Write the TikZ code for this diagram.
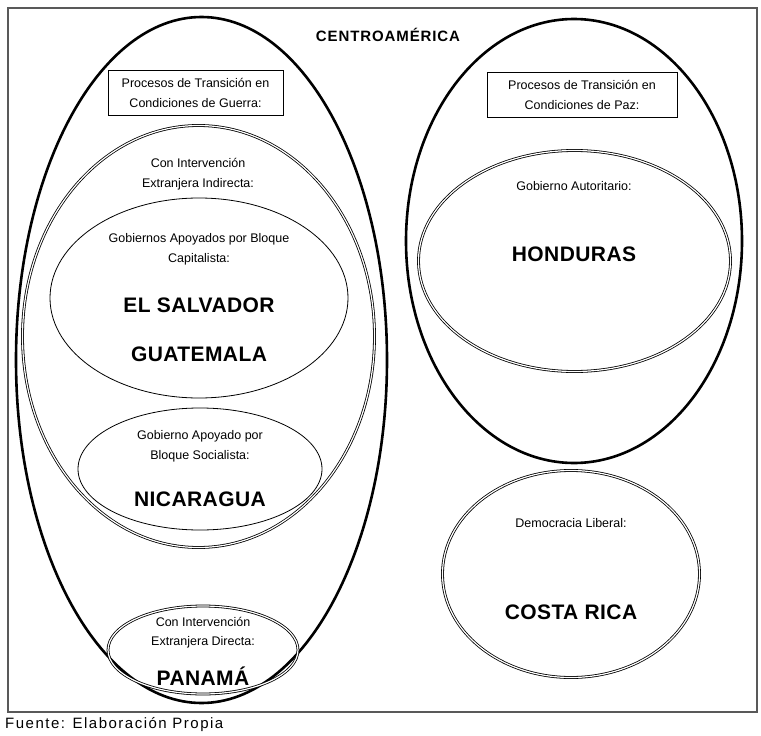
\documentclass[tikz,border=0pt]{standalone}
\usepackage{fontspec}
\setmainfont{Liberation Sans}
\usetikzlibrary{shapes.geometric}
\begin{document}
\begin{tikzpicture}[x=1pt,y=-1pt,
  bigell/.style={ellipse,draw,line width=2.6pt,inner sep=0pt},
  dblell/.style={ellipse,draw,double,line width=0.8pt,double distance=1.2pt,inner sep=0pt},
  oneell/.style={ellipse,draw,line width=0.8pt,inner sep=0pt},
  titlebox/.style={draw,line width=0.8pt,minimum width=#1,minimum height=45pt,inner sep=0pt,align=center,font=\fontsize{12.5}{20}\selectfont},
  small/.style={align=center,inner sep=0pt,font=\fontsize{12.5}{20}\selectfont},
  country/.style={inner sep=0pt,font=\fontsize{21}{24}\bfseries\addfontfeature{LetterSpace=2}\selectfont}]
\useasboundingbox (0,0) rectangle (761,736);
\draw[line width=1.4pt,gray!70!black] (8,8) rectangle (757,712);
\node[font=\fontsize{15}{16}\bfseries\addfontfeature{LetterSpace=6}\selectfont,inner sep=0pt] (title) at (388,35) {CENTROAMÉRICA};
% left side
\node[bigell,minimum width=371pt,minimum height=686pt] (guerra) at (201.5,360) {};
\node[titlebox=175pt] (guerrabox) at (195.5,92.5) {Procesos de Transición en\\Condiciones de Guerra:};
\node[dblell,minimum width=352pt,minimum height=422pt] (indirecta) at (198.5,336.5) {};
\node[small] (indtxt) at (198,174) {Con Intervención\\Extranjera Indirecta:};
\node[oneell,minimum width=298pt,minimum height=200pt] (capital) at (199,298) {};
\node[small] (captxt) at (199,249) {Gobiernos Apoyados por Bloque\\Capitalista:};
\node[country] (salvador) at (199,305) {EL SALVADOR};
\node[country] (guatemala) at (199,354) {GUATEMALA};
\node[oneell,minimum width=244pt,minimum height=122pt] (social) at (200,469) {};
\node[small] (soctxt) at (200,446) {Gobierno Apoyado por\\Bloque Socialista:};
\node[country] (nicaragua) at (200,499) {NICARAGUA};
\node[dblell,minimum width=190pt,minimum height=88pt] (directa) at (203,650) {};
\node[small,font=\fontsize{12.5}{19}\selectfont] (dirtxt) at (203,632.5) {Con Intervención\\Extranjera Directa:};
\node[country] (panama) at (203,676) {PANAMÁ};
% right side
\node[bigell,minimum width=336pt,minimum height=444pt] (paz) at (574,241) {};
\node[titlebox=190pt] (pazbox) at (582,95) {Procesos de Transición en\\Condiciones de Paz:};
\node[dblell,minimum width=312pt,minimum height=221pt] (autoritario) at (574.5,261) {};
\node[small] (auttxt) at (574,186) {Gobierno Autoritario:};
\node[country] (honduras) at (574,254) {HONDURAS};
\node[dblell,minimum width=257pt,minimum height=207pt] (liberal) at (571,574) {};
\node[small] (libtxt) at (571,523) {Democracia Liberal:};
\node[country] (costarica) at (571,612) {COSTA RICA};
% caption
\node[anchor=west,inner sep=0pt,font=\fontsize{15}{16}\addfontfeature{LetterSpace=10}\selectfont] (fuente) at (5,725) {Fuente: Elaboración Propia};
\end{tikzpicture}
\end{document}
